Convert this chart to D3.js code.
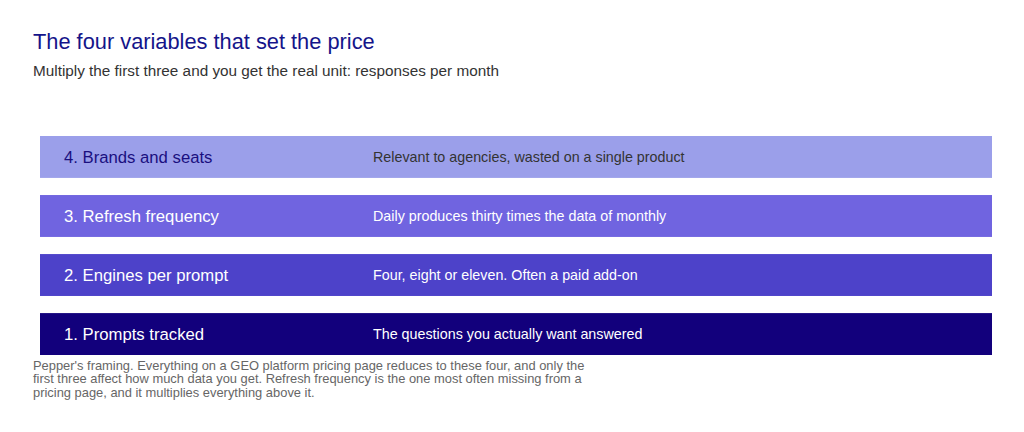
<!DOCTYPE html>
<html><head><meta charset="utf-8">
<script src="https://cdn.jsdelivr.net/npm/d3@7"></script>
<style>body{margin:0;background:#fff;}svg{display:block;font-family:"Liberation Sans",Arial,Helvetica,sans-serif;}</style>
</head><body>
<svg id="c" width="1024" height="432"></svg>
<script>
const categories = ["4. Brands and seats","3. Refresh frequency","2. Engines per prompt","1. Prompts tracked"];
const descriptions = ["Relevant to agencies, wasted on a single product","Daily produces thirty times the data of monthly","Four, eight or eleven. Often a paid add-on","The questions you actually want answered"];
const values = [1,1,1,1];
const colors = ["#9b9fea","#7064e0","#4d42c9","#12007c"];
const labelColors = ["#1a0f80","#ffffff","#ffffff","#ffffff"];
const descColors = ["#333333","#ffffff","#ffffff","#ffffff"];
const title = "The four variables that set the price";
const subtitle = "Multiply the first three and you get the real unit: responses per month";
const footnote = ["Pepper's framing. Everything on a GEO platform pricing page reduces to these four, and only the","first three affect how much data you get. Refresh frequency is the one most often missing from a","pricing page, and it multiplies everything above it."];

const svg = d3.select("#c");
svg.append("text").attr("x",33).attr("y",48.5).attr("font-size",21.8).attr("fill","#14148a").text(title);
svg.append("text").attr("x",33).attr("y",75.5).attr("font-size",15.3).attr("fill","#333").text(subtitle);

const y = d3.scaleBand().domain(categories).range([136,355]).paddingInner(0.29).paddingOuter(0);
const x = d3.scaleLinear().domain([0,1]).range([40,992]);
const rows = categories.map((c,i)=>({c,d:descriptions[i],v:values[i],i}));
const g = svg.append("g").selectAll("g").data(rows).join("g");
g.append("rect").attr("x",x(0)).attr("y",d=>y(d.c)).attr("width",d=>x(d.v)-x(0)).attr("height",y.bandwidth()).attr("fill",d=>colors[d.i]);
g.append("text").attr("x",x(0)+24).attr("y",d=>y(d.c)+y.bandwidth()/2).attr("dy","0.35em").attr("font-size",16.7).attr("fill",d=>labelColors[d.i]).text(d=>d.c);
g.append("text").attr("x",373).attr("y",d=>y(d.c)+y.bandwidth()/2).attr("dy","0.35em").attr("font-size",14.3).attr("fill",d=>descColors[d.i]).text(d=>d.d);

svg.append("g").selectAll("text").data(footnote).join("text").attr("x",33).attr("y",(d,i)=>369.5+i*13.5).attr("font-size",12.9).attr("fill","#666").text(d=>d);
</script>
</body></html>
